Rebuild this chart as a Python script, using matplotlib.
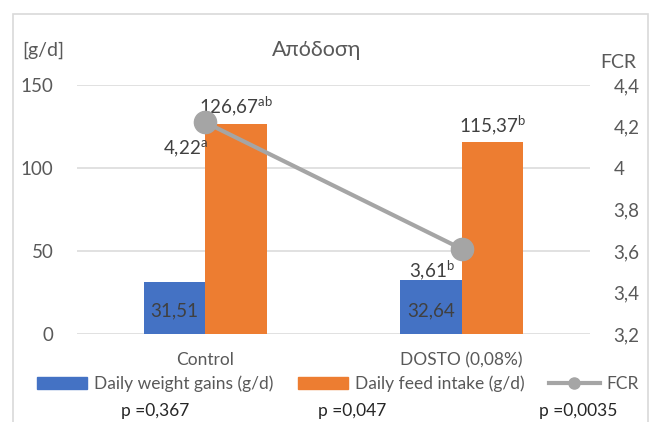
import matplotlib
matplotlib.use('Agg')
import matplotlib.pyplot as plt
from matplotlib.patches import Rectangle, Patch
from matplotlib.lines import Line2D
import numpy as np

plt.rcParams['font.family'] = ['Lato', 'DejaVu Sans']

categories = ['Control', 'DOSTO (0,08%)']
weight_gain = [31.51, 32.64]
feed_intake = [126.67, 115.37]
fcr = [4.22, 3.61]
feed_sup = ['ab', 'b']
fcr_sup = ['a', 'b']
p_values = ['p =0,367', 'p =0,047', 'p =0,0035']

BLUE = '#4472C4'
ORANGE = '#ED7D31'
GRAY = '#A5A5A5'
TXT = '#595959'
LBL = '#404040'


def fmt(v, nd=2):
    return f'{v:.{nd}f}'.replace('.', ',')


fig = plt.figure(figsize=(6.54, 4.22), dpi=100)
ax = fig.add_axes([77 / 654, (422 - 334) / 422, 513 / 654, 249 / 422])

x = np.arange(len(categories))
w = 0.24
ax.bar(x - w / 2, weight_gain, w, color=BLUE, zorder=2)
ax.bar(x + w / 2, feed_intake, w, color=ORANGE, zorder=2)
ax.set_xlim(-0.5, 1.5)
ax.set_ylim(0, 150)
ax.set_yticks([0, 50, 100, 150])
ax.yaxis.grid(True, color='#D9D9D9', lw=1.1, zorder=0)
ax.set_axisbelow(True)
for s in ax.spines.values():
    s.set_visible(False)
ax.tick_params(axis='y', length=0, pad=17, labelsize=13.5, labelcolor=TXT)
ax.set_xticks(x)
ax.set_xticklabels(categories)
ax.tick_params(axis='x', length=0, pad=13, labelsize=12.5, labelcolor=TXT)

for xi, v in zip(x, weight_gain):
    ax.annotate(fmt(v), (xi - w / 2, 0), xytext=(0, 17), textcoords='offset points',
                ha='center', va='center', fontsize=13.5, color=LBL, zorder=5)
for xi, v, s in zip(x, feed_intake, feed_sup):
    ax.annotate(fmt(v) + r'$\mathregular{^{%s}}$' % s, (xi + w / 2, v),
                xytext=(0, 4), textcoords='offset points',
                ha='center', va='bottom', fontsize=13.5, color=LBL, zorder=5)

ax2 = ax.twinx()
ax2.plot(x, fcr, color=GRAY, lw=3, marker='o', markersize=16, zorder=3)
ax2.set_ylim(3.2, 4.4)
ax2.set_yticks([3.2, 3.4, 3.6, 3.8, 4.0, 4.2, 4.4])
ax2.set_yticklabels([fmt(t, 1).rstrip('0').rstrip(',') for t in [3.2, 3.4, 3.6, 3.8, 4.0, 4.2, 4.4]])
for s in ax2.spines.values():
    s.set_visible(False)
ax2.tick_params(axis='y', length=0, pad=17, labelsize=13.5, labelcolor=TXT)

offsets = [(2, -12), (-5, -7)]
for xi, v, s, off in zip(x, fcr, fcr_sup, offsets):
    ax2.annotate(fmt(v) + r'$\mathregular{^{%s}}$' % s, (xi, v), xytext=off,
                 textcoords='offset points', ha='right', va='top',
                 fontsize=13.5, color=LBL, zorder=5)

fig.text(317 / 654, 1 - 50 / 422, 'Απόδοση', ha='center', va='center',
         fontsize=15.5, color=TXT)
fig.text(22 / 654, 1 - 50 / 422, '[g/d]', ha='left', va='center',
         fontsize=14, color=TXT)
fig.text(600 / 654, 1 - 62 / 422, 'FCR', ha='left', va='center',
         fontsize=14, color=TXT)

handles = [Patch(color=BLUE), Patch(color=ORANGE),
           Line2D([], [], color=GRAY, lw=3, marker='o', markersize=8)]
labels = ['Daily weight gains (g/d)', 'Daily feed intake (g/d)', 'FCR']
leg = fig.legend(handles, labels, loc='center', ncol=3,
                 bbox_to_anchor=(338 / 654, 1 - 384 / 422), frameon=False,
                 fontsize=12.5, handlelength=2.9, handletextpad=0.4,
                 columnspacing=1.4, labelcolor=TXT)

p_x = [155, 352, 578]
for px, p in zip(p_x, p_values):
    fig.text(px / 654, 1 - 411 / 422, p, ha='center', va='center',
             fontsize=12.5, color='#262626')

fig.add_artist(Rectangle((13 / 654, -0.05), 635 / 654, 1.017,
                         transform=fig.transFigure, fill=False,
                         edgecolor='#D9D9D9', lw=1.2))

fig.savefig('out.png', dpi=100)
